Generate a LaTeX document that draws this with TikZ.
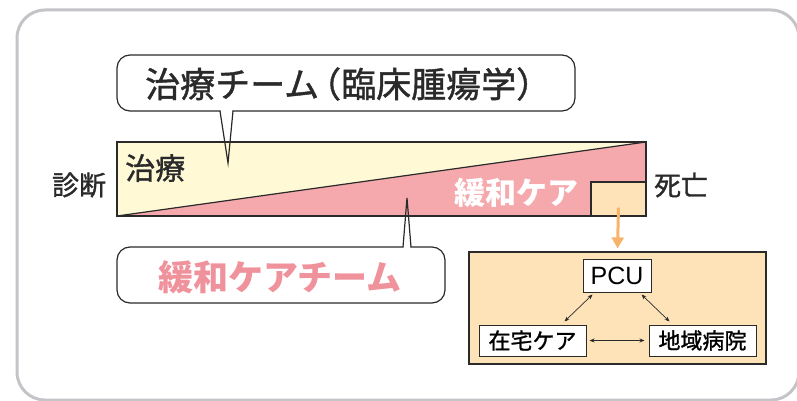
\documentclass[tikz,border=0pt]{standalone}
\usepackage{fontspec}
\newfontfamily\jp{Noto Sans CJK JP}[FakeBold=1.2]
\newfontfamily\jpb{Noto Sans CJK JP}
\newfontfamily\lat{Liberation Sans}
\usetikzlibrary{arrows.meta}
\definecolor{framegray}{HTML}{C4C4C8}
\definecolor{cream}{HTML}{FFF9D6}
\definecolor{rose}{HTML}{F5A9AC}
\definecolor{peach}{HTML}{FFE3B8}
\definecolor{orangearr}{HTML}{F8B36A}
\definecolor{pinktext}{HTML}{F0929C}
\definecolor{ink}{HTML}{2A2A2A}
\tikzset{
  outline/.style={draw=ink, line width=1.2pt},
  callout/.style={draw=ink, line width=1.2pt, fill=white, rounded corners=13pt},
  place/.style={draw=ink, line width=1pt, fill=white, inner sep=0pt, font=\jp\fontsize{22}{24}\selectfont},
  link/.style={draw=ink, line width=0.7pt, {Stealth[length=5pt,width=4pt]}-{Stealth[length=5pt,width=4pt]}},
  jptext/.style={inner sep=0pt, text=ink}
}
\begin{document}
\begin{tikzpicture}[x=1pt,y=-1pt]
\useasboundingbox (0,0) rectangle (797,401);
% outer frame
\draw[framegray, line width=3pt, rounded corners=28pt] (17,10) rectangle (799,400);

% top callout (treatment team)
\coordinate (tipA) at (228,163);
\draw[callout] (117,55) rectangle (575,111);
\fill[white] (220.5,109) -- (232.5,109) -- (tipA) -- cycle;
% bottom callout (palliative care team)
\coordinate (tipB) at (407,198);
\draw[callout] (117,247) rectangle (445,303);
\fill[white] (403.5,249) -- (410.5,249) -- (tipB) -- cycle;

% main bar
\fill[cream] (117,142) -- (646,142) -- (117,216) -- cycle;
\fill[rose] (117,216) -- (646,142) -- (646,216) -- cycle;
\draw[ink, line width=1.2pt] (117,216) -- (646,142);
\node[outline, fill=peach, minimum width=55pt, minimum height=34pt, inner sep=0pt] (small) at (618.5,199) {};
\draw[outline] (117,142) rectangle (646,216);
% pointer lines
\draw[ink, line width=1.2pt] (220,111) -- (tipA) -- (233,111);
\draw[ink, line width=1.2pt] (403,247) -- (tipB) -- (411,247);

% texts
\node[jptext, anchor=west, font=\jp\fontsize{35}{37}\selectfont] (teamA) at (145,84) {治療チーム\hspace{-13pt}（臨床腫瘍学）};
\node[jptext, anchor=west, font=\jp\fontsize{30}{32}\selectfont] (treat) at (125,168) {治療};
\node[jptext, font=\jp\fontsize{27}{29}\selectfont] (diag) at (79,185) {診断};
\node[jptext, font=\jp\fontsize{27}{29}\selectfont] (death) at (681,185) {死亡};
\node[inner sep=0pt, text=white, font=\jpb\bfseries\fontsize{31}{33}\selectfont] (care) at (516,193) {緩和ケア};
\node[inner sep=0pt, text=pinktext, font=\jpb\bfseries\fontsize{35}{37}\selectfont] (teamB) at (280,277) {緩和ケアチーム};

% destination box
\node[outline, fill=peach, minimum width=297pt, minimum height=112pt, inner sep=0pt] (pbox) at (617.5,308) {};
\draw[orangearr, line width=3pt, -{Triangle[length=11pt,width=12pt]}] ([yshift=9pt]small.south) -- ([yshift=3pt]pbox.north);
\node[place, minimum width=68pt, minimum height=33pt, font=\lat\fontsize{25}{27}\selectfont] (pcu) at (617,275.5) {PCU};
\node[place, minimum width=107pt, minimum height=31pt] (home) at (532.5,340.5) {在宅ケア};
\node[place, minimum width=107pt, minimum height=31pt] (hosp) at (702.5,340.5) {地域病院};
\draw[link] ([xshift=10pt,yshift=-2pt]pcu.south west) -- ([xshift=86pt,yshift=3pt]home.north west);
\draw[link] ([xshift=-10pt,yshift=-2pt]pcu.south east) -- ([xshift=21pt,yshift=3pt]hosp.north west);
\draw[link, shorten <=3pt, shorten >=4pt] (home.east) -- (hosp.west);
\end{tikzpicture}
\end{document}
